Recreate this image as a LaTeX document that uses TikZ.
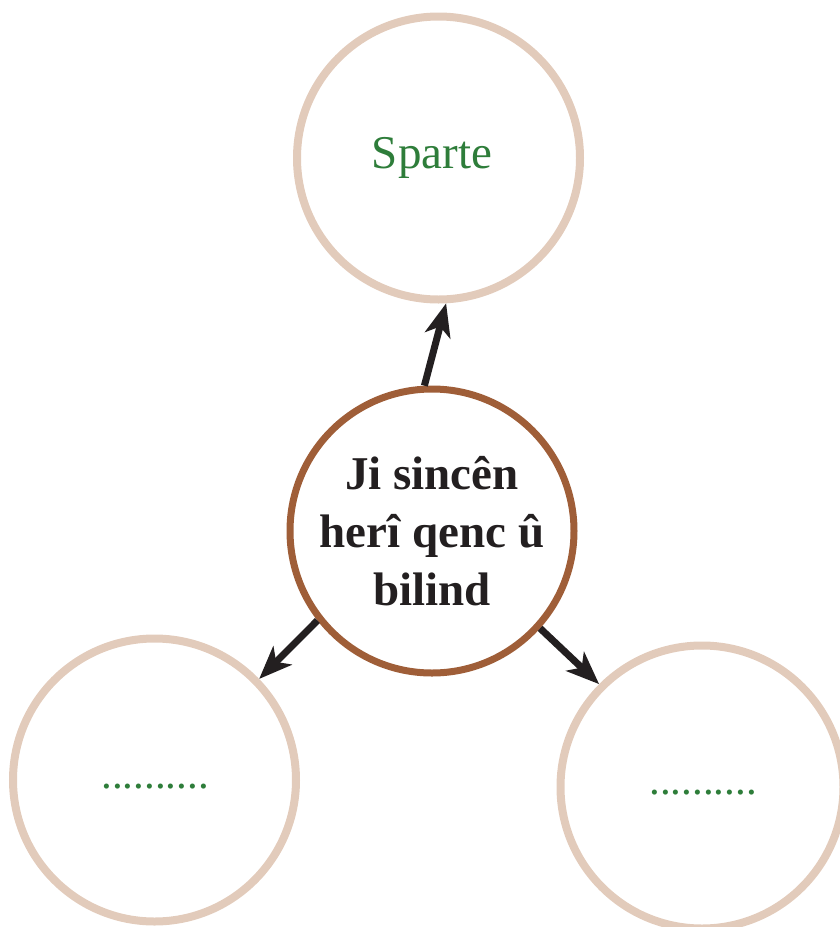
\documentclass[tikz,border=0pt]{standalone}
\usepackage{fontspec}
\setmainfont{Liberation Serif}
\usetikzlibrary{arrows.meta}
\definecolor{ring}{HTML}{E2CBBB}
\definecolor{hubc}{HTML}{9F5E38}
\definecolor{arr}{HTML}{231F20}
\definecolor{txtg}{HTML}{2E7D3A}
\begin{document}
\begin{tikzpicture}[x=1pt,y=-1pt,
 leaf/.style={circle,draw=ring,line width=8pt,minimum size=283pt,inner sep=0pt},
 hub/.style={circle,draw=hubc,line width=7pt,minimum size=284pt,inner sep=0pt,align=center,text=arr,font=\fontsize{47}{58}\selectfont\bfseries},
 lbl/.style={text=txtg,anchor=base,inner sep=0pt},
 conn/.style={draw=arr,line width=7pt,-{Stealth[length=33pt,width=26pt,inset=9pt]}}]
\useasboundingbox (0,0) rectangle (840,927);
\node[leaf] (t) at (438.5,158) {};
\node[leaf] (l) at (154.5,780) {};
\node[leaf] (r) at (702,787) {};
\node[hub] (c) at (432,531) {Ji sincên\\herî qenc û\\bilind};
\node[lbl,font=\fontsize{47}{56}\selectfont] (ts) at (432,168) {Sparte};
\node[lbl,font=\fontsize{43}{50}\selectfont] (ls) at (155,788) {..........};
\node[lbl,font=\fontsize{43}{50}\selectfont] (rs) at (703,794) {..........};
\draw[conn] (c.93) -- (t.273);
\draw[conn] (c.218) -- (l.44);
\draw[conn] (c.-42) -- (r.135);
\end{tikzpicture}
\end{document}
